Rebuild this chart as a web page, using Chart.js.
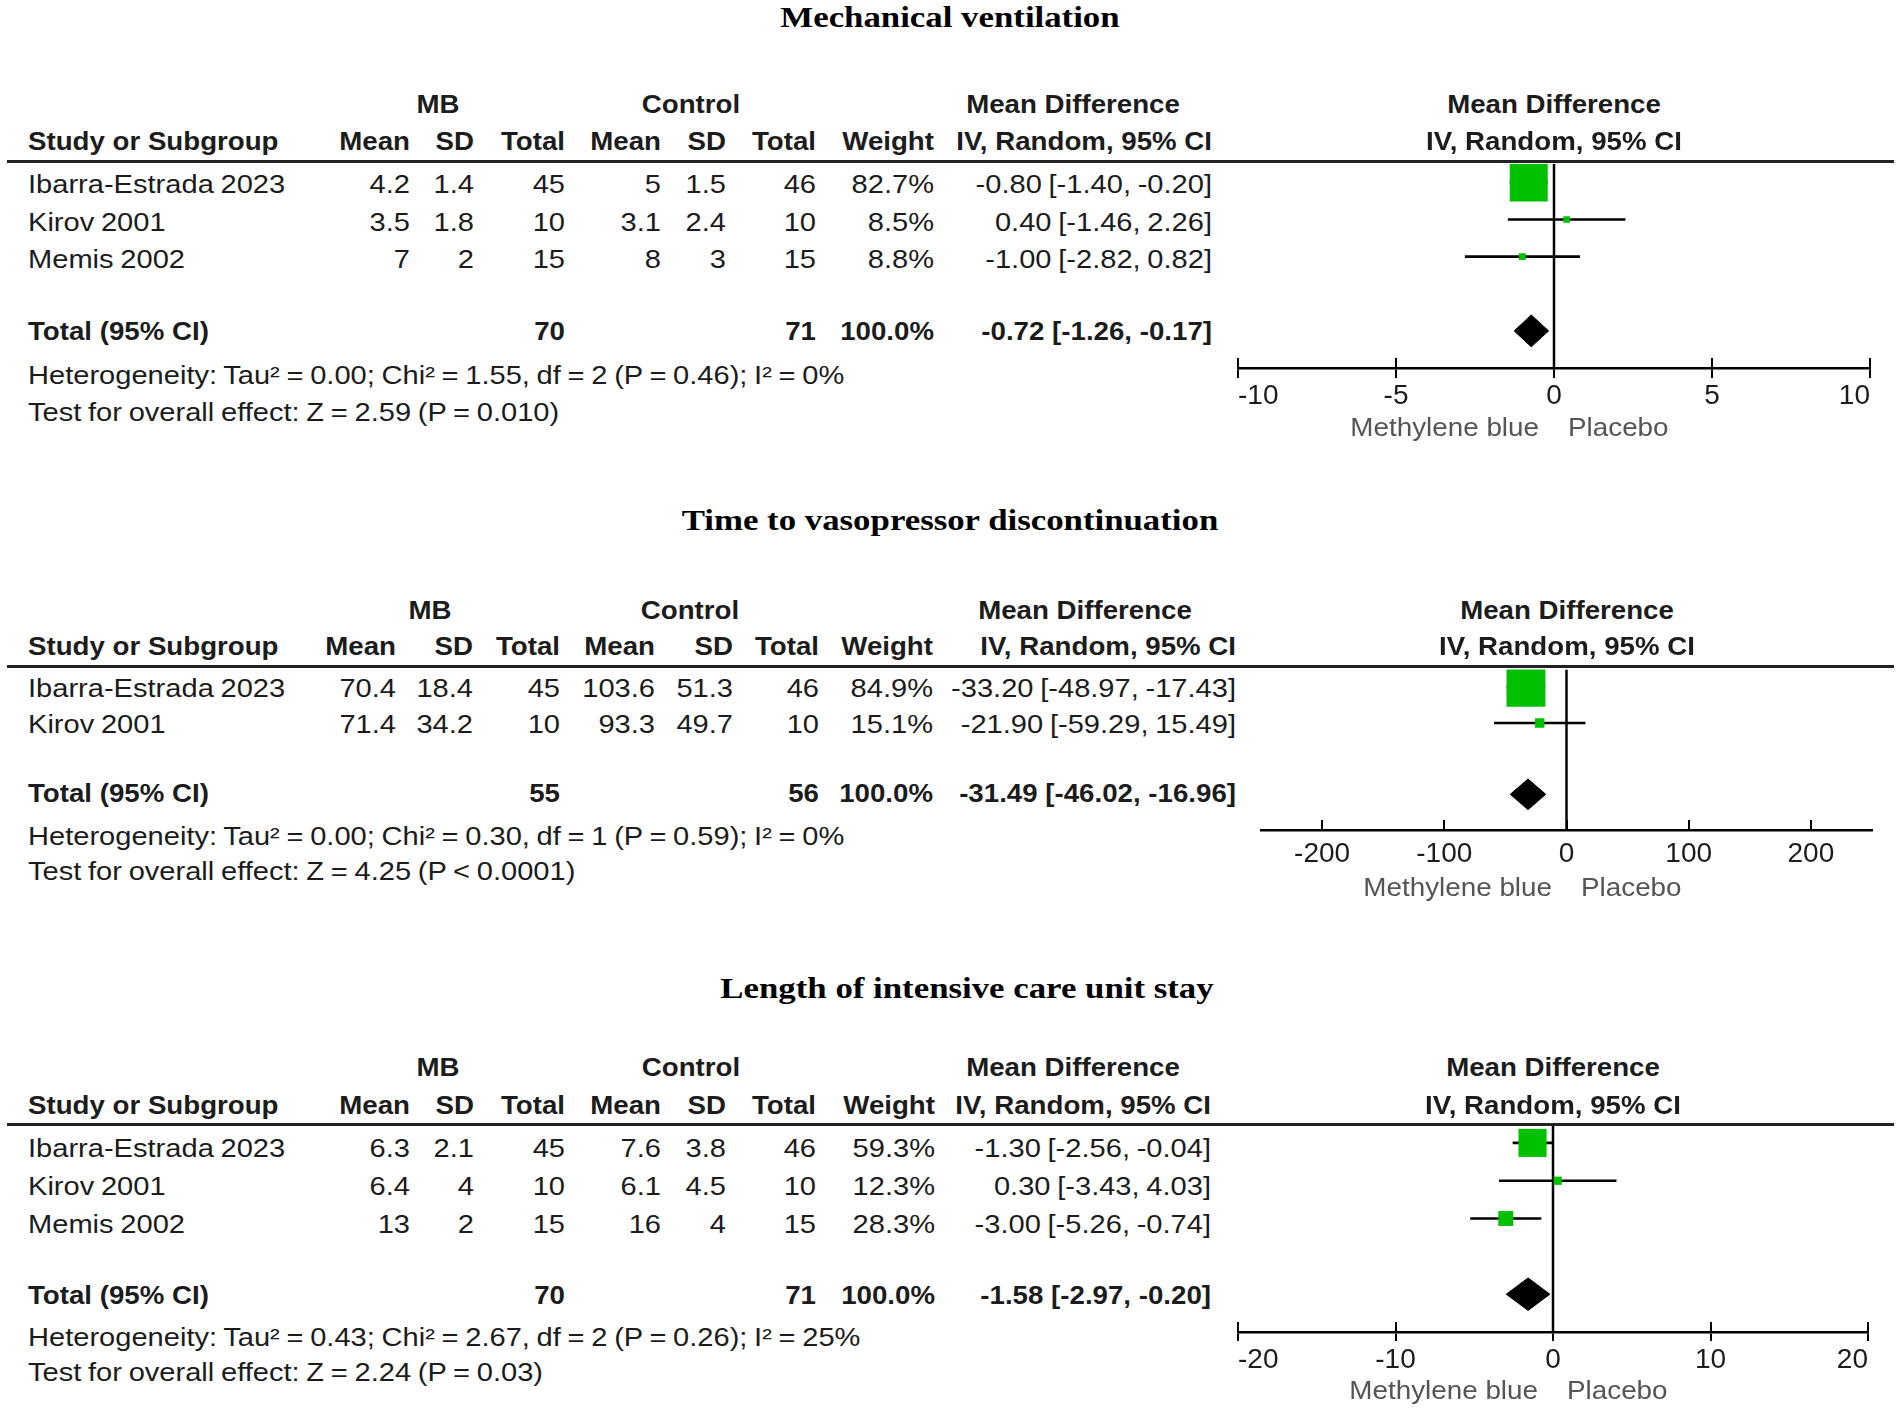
<!DOCTYPE html>
<html><head><meta charset="utf-8">
<script src="https://cdn.jsdelivr.net/npm/chart.js@4.4.0/dist/chart.umd.min.js"></script>
<style>
html,body{margin:0;padding:0;background:#fff;}
#root{position:relative;width:1901px;height:1414px;overflow:hidden;background:#fff;}
.t{position:absolute;white-space:nowrap;line-height:1;font-family:'Liberation Sans',Arial,sans-serif;font-size:25.5px;color:#1c1c1c;word-spacing:-1.2px;}
.b{font-weight:bold;word-spacing:0;}
.ttl{font-family:'Liberation Serif','Times New Roman',serif;font-weight:bold;font-size:30px;color:#000;word-spacing:0;}
.side{font-size:26.5px;color:#555;word-spacing:0;}
.rule{position:absolute;height:3px;background:#222;}
canvas{position:absolute;}
</style></head><body><div id="root"></div>
<script>
// ---------- DATA ----------
// Mechanical ventilation
const mvTitle = 'Mechanical ventilation';
const mvStudies = ['Ibarra-Estrada 2023', 'Kirov 2001', 'Memis 2002'];
const mvMbMean = [4.2, 3.5, 7];
const mvMbSD = [1.4, 1.8, 2];
const mvMbTotal = [45, 10, 15];
const mvCtlMean = [5, 3.1, 8];
const mvCtlSD = [1.5, 2.4, 3];
const mvCtlTotal = [46, 10, 15];
const mvWeight = [82.7, 8.5, 8.8];
const mvMD = [-0.80, 0.40, -1.00];
const mvLo = [-1.40, -1.46, -2.82];
const mvHi = [-0.20, 2.26, 0.82];
const mvPooled = [-0.72, -1.26, -0.17];   // estimate, lower, upper
const mvTotals = [70, 71, 100.0];         // MB total, control total, weight
const mvHet = 'Heterogeneity: Tau² = 0.00; Chi² = 1.55, df = 2 (P = 0.46); I² = 0%';
const mvTest = 'Test for overall effect: Z = 2.59 (P = 0.010)';
const mvTicks = [-10, -5, 0, 5, 10];

// Time to vasopressor discontinuation
const vpTitle = 'Time to vasopressor discontinuation';
const vpStudies = ['Ibarra-Estrada 2023', 'Kirov 2001'];
const vpMbMean = [70.4, 71.4];
const vpMbSD = [18.4, 34.2];
const vpMbTotal = [45, 10];
const vpCtlMean = [103.6, 93.3];
const vpCtlSD = [51.3, 49.7];
const vpCtlTotal = [46, 10];
const vpWeight = [84.9, 15.1];
const vpMD = [-33.20, -21.90];
const vpLo = [-48.97, -59.29];
const vpHi = [-17.43, 15.49];
const vpPooled = [-31.49, -46.02, -16.96];
const vpTotals = [55, 56, 100.0];
const vpHet = 'Heterogeneity: Tau² = 0.00; Chi² = 0.30, df = 1 (P = 0.59); I² = 0%';
const vpTest = 'Test for overall effect: Z = 4.25 (P < 0.0001)';
const vpTicks = [-200, -100, 0, 100, 200];

// Length of intensive care unit stay
const icuTitle = 'Length of intensive care unit stay';
const icuStudies = ['Ibarra-Estrada 2023', 'Kirov 2001', 'Memis 2002'];
const icuMbMean = [6.3, 6.4, 13];
const icuMbSD = [2.1, 4, 2];
const icuMbTotal = [45, 10, 15];
const icuCtlMean = [7.6, 6.1, 16];
const icuCtlSD = [3.8, 4.5, 4];
const icuCtlTotal = [46, 10, 15];
const icuWeight = [59.3, 12.3, 28.3];
const icuMD = [-1.30, 0.30, -3.00];
const icuLo = [-2.56, -3.43, -5.26];
const icuHi = [-0.04, 4.03, -0.74];
const icuPooled = [-1.58, -2.97, -0.20];
const icuTotals = [70, 71, 100.0];
const icuHet = 'Heterogeneity: Tau² = 0.43; Chi² = 2.67, df = 2 (P = 0.26); I² = 25%';
const icuTest = 'Test for overall effect: Z = 2.24 (P = 0.03)';
const icuTicks = [-20, -10, 0, 10, 20];

const favoursLeft = 'Methylene blue';
const favoursRight = 'Placebo';

// ---------- LAYOUT / STYLE ----------
const GREEN = '#00C000';
const root = document.getElementById('root');
const SX = { '': 1.14, 'b': 1.085, 'ttl': 1.16, 'side': 1.05 };

function txt(str, x, y, align, cls) {
  cls = cls || '';
  const d = document.createElement('div');
  d.className = 't ' + cls;
  d.textContent = str;
  d.style.left = x + 'px';
  d.style.top = y + 'px';
  const sx = SX[cls] || 1.14;
  if (align === 'left') { d.style.transformOrigin = '0 50%'; d.style.transform = `translateY(-50%) scaleX(${sx})`; }
  else if (align === 'right') { d.style.transformOrigin = '100% 50%'; d.style.transform = `translate(-100%,-50%) scaleX(${sx})`; }
  else { d.style.transformOrigin = '50% 50%'; d.style.transform = `translate(-50%,-50%) scaleX(${sx})`; }
  root.appendChild(d);
  return d;
}

const colsA = { mbMean: 410, mbSD: 473.5, mbTotal: 564.5, ctlMean: 661, ctlSD: 726, ctlTotal: 815.5, weight: 934, ci: 1212 };
const layouts = [
  { titleX: 950, titleY: 17, hdr1: 105, hdr2: 142, rule: 161, rows: [185, 222.5, 260], totalY: 332, hetY: 376, testY: 413,
    cols: colsA, studyX: 28, mbX: 438, ctlX: 691, mdX: 1072.5,
    plotLeft: 1238, plotRight: 1870, plotTop: 161, plotBottom: 368, xMin: -10, xMax: 10,
    tickAlign: 'inner', tickDown: 10, tickUp: 10, tickPad: 4, sideY: 427 },
  { titleX: 950, titleY: 520, hdr1: 610.7, hdr2: 647.3, rule: 666, rows: [689, 725], totalY: 794, hetY: 836.7, testY: 871.7,
    cols: { mbMean: 396, mbSD: 473, mbTotal: 560, ctlMean: 655, ctlSD: 733, ctlTotal: 818.5, weight: 932.5, ci: 1236 },
    studyX: 28, mbX: 430, ctlX: 690, mdX: 1085,
    plotLeft: 1261, plotRight: 1872, plotTop: 666, plotBottom: 830, xMin: -250, xMax: 250,
    tickAlign: 'center', tickDown: 0, tickUp: 10, tickPad: 10, sideY: 887 },
  { titleX: 967, titleY: 988, hdr1: 1068, hdr2: 1106, rule: 1124, rows: [1149, 1187, 1225], totalY: 1296, hetY: 1338, testY: 1373,
    cols: { mbMean: 410, mbSD: 474, mbTotal: 565, ctlMean: 661, ctlSD: 726, ctlTotal: 816, weight: 935, ci: 1211 },
    studyX: 28, mbX: 438, ctlX: 691, mdX: 1073,
    plotLeft: 1238, plotRight: 1868, plotTop: 1124, plotBottom: 1332, xMin: -20, xMax: 20,
    tickAlign: 'inner', tickDown: 9, tickUp: 10, tickPad: 5, sideY: 1390 }
];

const sections = [
  { title: mvTitle, studies: mvStudies, mbMean: mvMbMean, mbSD: mvMbSD, mbTotal: mvMbTotal, ctlMean: mvCtlMean, ctlSD: mvCtlSD, ctlTotal: mvCtlTotal,
    weight: mvWeight, md: mvMD, lo: mvLo, hi: mvHi, pooled: mvPooled, totals: mvTotals, het: mvHet, test: mvTest, ticks: mvTicks },
  { title: vpTitle, studies: vpStudies, mbMean: vpMbMean, mbSD: vpMbSD, mbTotal: vpMbTotal, ctlMean: vpCtlMean, ctlSD: vpCtlSD, ctlTotal: vpCtlTotal,
    weight: vpWeight, md: vpMD, lo: vpLo, hi: vpHi, pooled: vpPooled, totals: vpTotals, het: vpHet, test: vpTest, ticks: vpTicks },
  { title: icuTitle, studies: icuStudies, mbMean: icuMbMean, mbSD: icuMbSD, mbTotal: icuMbTotal, ctlMean: icuCtlMean, ctlSD: icuCtlSD, ctlTotal: icuCtlTotal,
    weight: icuWeight, md: icuMD, lo: icuLo, hi: icuHi, pooled: icuPooled, totals: icuTotals, het: icuHet, test: icuTest, ticks: icuTicks }
];

const fmtCI = (m, l, h) => `${m.toFixed(2)} [${l.toFixed(2)}, ${h.toFixed(2)}]`;
const squareSide = w => 3 + 0.423 * w;
const DIAMOND_HALF = 0.43;

const upTicks = {
  id: 'upTicks',
  afterDraw(chart, args, opts) {
    const s = chart.scales.x, ctx = chart.ctx, yb = chart.chartArea.bottom;
    ctx.save();
    ctx.strokeStyle = '#000';
    ctx.lineWidth = 2;
    s.ticks.forEach(t => {
      const px = Math.round(s.getPixelForValue(t.value));
      ctx.beginPath();
      ctx.moveTo(px, yb - opts.len);
      ctx.lineTo(px, yb);
      ctx.stroke();
    });
    ctx.restore();
  }
};

function buildSection(sec, L) {
  txt(sec.title, L.titleX, L.titleY, 'center', 'ttl');
  txt('MB', L.mbX, L.hdr1, 'center', 'b');
  txt('Control', L.ctlX, L.hdr1, 'center', 'b');
  txt('Mean Difference', L.mdX, L.hdr1, 'center', 'b');
  txt('Study or Subgroup', L.studyX, L.hdr2, 'left', 'b');
  const c = L.cols;
  txt('Mean', c.mbMean, L.hdr2, 'right', 'b');
  txt('SD', c.mbSD, L.hdr2, 'right', 'b');
  txt('Total', c.mbTotal, L.hdr2, 'right', 'b');
  txt('Mean', c.ctlMean, L.hdr2, 'right', 'b');
  txt('SD', c.ctlSD, L.hdr2, 'right', 'b');
  txt('Total', c.ctlTotal, L.hdr2, 'right', 'b');
  txt('Weight', c.weight, L.hdr2, 'right', 'b');
  txt('IV, Random, 95% CI', c.ci, L.hdr2, 'right', 'b');
  const r = document.createElement('div');
  r.className = 'rule';
  r.style.left = '7px'; r.style.width = (1894 - 7) + 'px'; r.style.top = (L.rule - 1.5) + 'px';
  sec.studies.forEach((s, i) => {
    const y = L.rows[i];
    txt(s, L.studyX, y, 'left');
    txt(String(sec.mbMean[i]), c.mbMean, y, 'right');
    txt(String(sec.mbSD[i]), c.mbSD, y, 'right');
    txt(String(sec.mbTotal[i]), c.mbTotal, y, 'right');
    txt(String(sec.ctlMean[i]), c.ctlMean, y, 'right');
    txt(String(sec.ctlSD[i]), c.ctlSD, y, 'right');
    txt(String(sec.ctlTotal[i]), c.ctlTotal, y, 'right');
    txt(sec.weight[i].toFixed(1) + '%', c.weight, y, 'right');
    txt(fmtCI(sec.md[i], sec.lo[i], sec.hi[i]), c.ci, y, 'right');
  });
  txt('Total (95% CI)', L.studyX, L.totalY, 'left', 'b');
  txt(String(sec.totals[0]), c.mbTotal, L.totalY, 'right', 'b');
  txt(String(sec.totals[1]), c.ctlTotal, L.totalY, 'right', 'b');
  txt(sec.totals[2].toFixed(1) + '%', c.weight, L.totalY, 'right', 'b');
  txt(fmtCI(sec.pooled[0], sec.pooled[1], sec.pooled[2]), c.ci, L.totalY, 'right', 'b');
  txt(sec.het, L.studyX, L.hetY, 'left');
  txt(sec.test, L.studyX, L.testY, 'left');

  // ---- forest plot (Chart.js) ----
  const padL = 30, padR = 30, padT = 24, axisH = 60;
  const w = L.plotRight - L.plotLeft + padL + padR;
  const h = L.plotBottom - L.plotTop + padT + axisH;
  const canvas = document.createElement('canvas');
  canvas.width = w; canvas.height = h;
  const cLeft = L.plotLeft - padL, cTop = L.plotTop - padT;
  canvas.style.left = cLeft + 'px'; canvas.style.top = cTop + 'px';
  canvas.style.width = w + 'px'; canvas.style.height = h + 'px';
  root.appendChild(canvas);

  const n = sec.studies.length;
  const totalRow = n + 1, axisRow = n + 2;
  const datasets = [];
  datasets.push({
    type: 'scatter', data: sec.md.map((m, i) => ({ x: m, y: i })),
    pointStyle: 'rect', pointRadius: ctx => squareSide(sec.weight[ctx.dataIndex]) / Math.SQRT2,
    pointBackgroundColor: GREEN, backgroundColor: GREEN, pointBorderWidth: 0, borderWidth: 0, order: 0
  });
  sec.studies.forEach((s, i) => datasets.push({
    type: 'line', data: [{ x: sec.lo[i], y: i }, { x: sec.hi[i], y: i }],
    borderColor: '#000', borderWidth: 2.6, pointRadius: 0, fill: false, order: 2
  }));
  const [pm, pl, ph] = sec.pooled;
  datasets.push({
    type: 'line',
    data: [{ x: pl, y: totalRow }, { x: pm, y: totalRow - DIAMOND_HALF }, { x: ph, y: totalRow }, { x: pm, y: totalRow + DIAMOND_HALF }, { x: pl, y: totalRow }],
    borderColor: '#000', backgroundColor: '#000', borderWidth: 1, pointRadius: 0, fill: 'shape', tension: 0, order: 1
  });
  datasets.push({
    type: 'line', data: [{ x: 0, y: -0.5 }, { x: 0, y: axisRow }],
    borderColor: '#000', borderWidth: 2.5, pointRadius: 0, fill: false, order: 3
  });

  const chart = new Chart(canvas, {
    type: 'scatter',
    data: { datasets },
    plugins: [upTicks],
    options: {
      responsive: false, animation: false, devicePixelRatio: 1, events: [],
      layout: { padding: { left: padL, right: padR, top: padT, bottom: 0 } },
      plugins: { legend: { display: false }, tooltip: { enabled: false }, upTicks: { len: L.tickUp } },
      scales: {
        x: {
          type: 'linear', position: 'bottom', min: L.xMin, max: L.xMax,
          afterBuildTicks: s => { s.ticks = sec.ticks.map(v => ({ value: v })); },
          afterFit: s => { s.height = axisH; },
          grid: { display: true, drawOnChartArea: false, drawTicks: L.tickDown > 0, tickLength: L.tickDown, color: '#000', lineWidth: 2 },
          border: { display: true, color: '#000', width: 2.5 },
          ticks: {
            align: L.tickAlign, padding: L.tickPad, color: '#1c1c1c', autoSkip: false, maxRotation: 0,
            font: { family: "'Liberation Sans', Arial, sans-serif", size: 28, lineHeight: 1 },
            callback: v => String(v)
          }
        },
        y: { type: 'linear', min: -0.5, max: axisRow, reverse: true, display: false }
      }
    }
  });

  const zeroPx = cLeft + chart.scales.x.getPixelForValue(0);
  txt('Mean Difference', zeroPx, L.hdr1, 'center', 'b');
  txt('IV, Random, 95% CI', zeroPx, L.hdr2, 'center', 'b');
  txt(favoursLeft, zeroPx - 15, L.sideY, 'right', 'side');
  txt(favoursRight, zeroPx + 14, L.sideY, 'left', 'side');
  root.appendChild(r);
}

sections.forEach((s, i) => buildSection(s, layouts[i]));
</script>
</body></html>
